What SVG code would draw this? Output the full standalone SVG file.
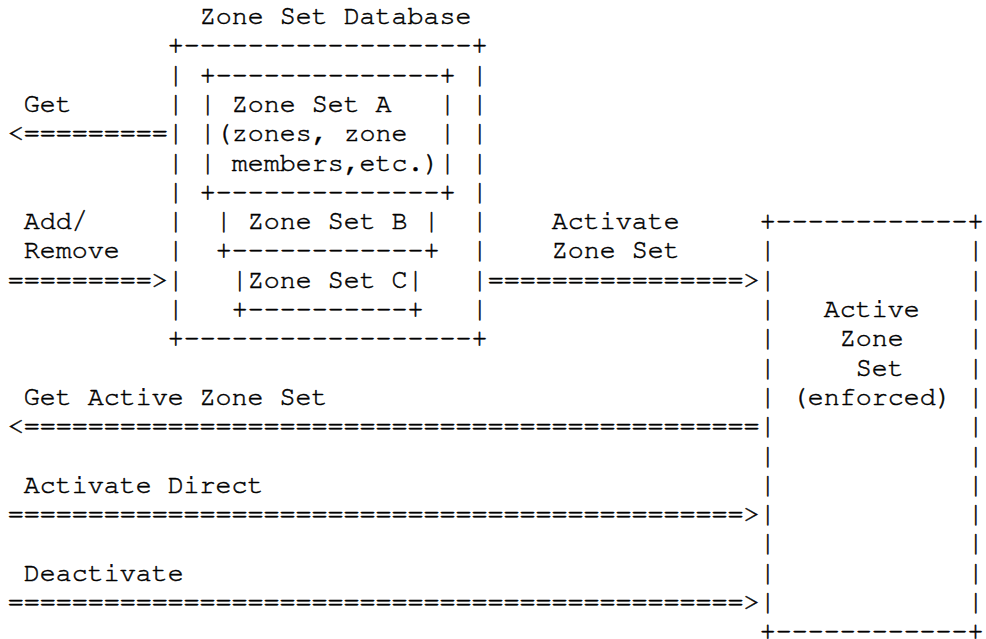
<svg xmlns="http://www.w3.org/2000/svg" width="986" height="639" viewBox="0 0 986 639" xml:space="preserve">
<style>
.t{font-family:"Nimbus Mono PS","Nimbus Mono L","FreeMono","Courier New","Liberation Mono",monospace;font-size:26.67px;fill:#000;stroke:#000;stroke-width:0.5px;white-space:pre}
</style>
<rect x="0" y="0" width="986" height="639" fill="#fff"/>
<g id="zone-set-database">
<text class="t" x="199.7" y="24">Zone Set Database</text>
<text class="t" x="167.7" y="53.3">+------------------+</text>
<text class="t" x="167.7" y="82.6">|</text><text class="t" x="471.7" y="82.6">|</text>
<text class="t" x="167.7" y="111.9">|</text><text class="t" x="471.7" y="111.9">|</text>
<text class="t" x="167.7" y="141.2">|</text><text class="t" x="471.7" y="141.2">|</text>
<text class="t" x="167.7" y="170.5">|</text><text class="t" x="471.7" y="170.5">|</text>
<text class="t" x="167.7" y="199.8">|</text><text class="t" x="471.7" y="199.8">|</text>
<text class="t" x="167.7" y="229.1">|</text><text class="t" x="471.7" y="229.1">|</text>
<text class="t" x="167.7" y="258.4">|</text><text class="t" x="471.7" y="258.4">|</text>
<text class="t" x="167.7" y="287.7">|</text><text class="t" x="471.7" y="287.7">|</text>
<text class="t" x="167.7" y="317">|</text><text class="t" x="471.7" y="317">|</text>
<text class="t" x="167.7" y="346.3">+------------------+</text>
</g>
<g id="zone-set-a">
<text class="t" x="199.7" y="82.6">+--------------+</text>
<text class="t" x="199.7" y="111.9">| Zone Set A   |</text>
<text class="t" x="199.7" y="141.2">|(zones, zone  |</text>
<text class="t" x="199.7" y="170.5">| members,etc.)|</text>
<text class="t" x="199.7" y="199.8">+--------------+</text>
</g>
<g id="zone-set-b">
<text class="t" x="215.7" y="229.1">| Zone Set B |</text>
<text class="t" x="215.7" y="258.4">+------------+</text>
</g>
<g id="zone-set-c">
<text class="t" x="231.7" y="287.7">|Zone Set C|</text>
<text class="t" x="231.7" y="317">+----------+</text>
</g>
<g id="active-zone-set">
<text class="t" x="759.7" y="229.1">+------------+</text>
<text class="t" x="759.7" y="258.4">|</text><text class="t" x="967.7" y="258.4">|</text>
<text class="t" x="759.7" y="287.7">|</text><text class="t" x="967.7" y="287.7">|</text>
<text class="t" x="759.7" y="317">|</text><text class="t" x="967.7" y="317">|</text>
<text class="t" x="759.7" y="346.3">|</text><text class="t" x="967.7" y="346.3">|</text>
<text class="t" x="759.7" y="375.6">|</text><text class="t" x="967.7" y="375.6">|</text>
<text class="t" x="759.7" y="404.9">|</text><text class="t" x="967.7" y="404.9">|</text>
<text class="t" x="759.7" y="434.2">|</text><text class="t" x="967.7" y="434.2">|</text>
<text class="t" x="759.7" y="463.5">|</text><text class="t" x="967.7" y="463.5">|</text>
<text class="t" x="759.7" y="492.8">|</text><text class="t" x="967.7" y="492.8">|</text>
<text class="t" x="759.7" y="522.1">|</text><text class="t" x="967.7" y="522.1">|</text>
<text class="t" x="759.7" y="551.4">|</text><text class="t" x="967.7" y="551.4">|</text>
<text class="t" x="759.7" y="580.7">|</text><text class="t" x="967.7" y="580.7">|</text>
<text class="t" x="759.7" y="610">|</text><text class="t" x="967.7" y="610">|</text>
<text class="t" x="759.7" y="638.5">+------------+</text>
<text class="t" x="823.7" y="317">Active</text>
<text class="t" x="839.7" y="346.3">Zone</text>
<text class="t" x="855.7" y="375.6">Set</text>
<text class="t" x="791.7" y="404.9">(enforced)</text>
</g>
<g id="connectors">
<text class="t" x="23.7" y="111.9">Get</text>
<text class="t" x="7.7" y="141.2">&lt;=========</text>
<text class="t" x="23.7" y="229.1">Add/</text>
<text class="t" x="23.7" y="258.4">Remove</text>
<text class="t" x="7.7" y="287.7">=========&gt;</text>
<text class="t" x="551.7" y="229.1">Activate</text>
<text class="t" x="551.7" y="258.4">Zone Set</text>
<text class="t" x="487.7" y="287.7">================&gt;</text>
<text class="t" x="23.7" y="404.9">Get Active Zone Set</text>
<text class="t" x="7.7" y="434.2">&lt;==============================================</text>
<text class="t" x="23.7" y="492.8">Activate Direct</text>
<text class="t" x="7.7" y="522.1">==============================================&gt;</text>
<text class="t" x="23.7" y="580.7">Deactivate</text>
<text class="t" x="7.7" y="610">==============================================&gt;</text>
</g>
</svg>
